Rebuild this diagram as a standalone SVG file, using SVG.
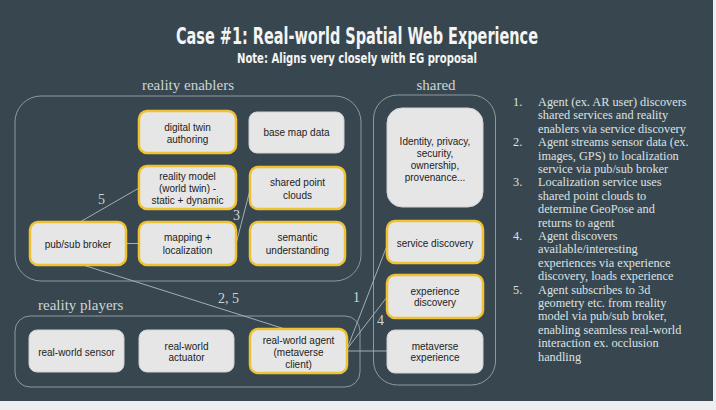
<svg xmlns="http://www.w3.org/2000/svg" width="716" height="410" viewBox="0 0 716 410">
  <defs>
    <style>
      .bg { fill: #38474f; }
      .frame { fill: none; stroke: #8e999f; stroke-width: 1; }
      .box { fill: #e6e6e6; stroke: #cfd1d2; stroke-width: 1; }
      .hl { fill: #e6e6e6; stroke: #efc234; stroke-width: 2.5; }
      .lbl { font-family: "Liberation Sans", Arial, sans-serif; font-size: 10px; fill: #222; text-anchor: middle; }
      .grp { font-family: "Liberation Serif", "Times New Roman", serif; font-size: 15px; fill: #cdd5d9; }
      .num { font-family: "Liberation Serif", "Times New Roman", serif; font-size: 14px; fill: #cdd5d9; }
      .list { font-family: "Liberation Serif", "Times New Roman", serif; font-size: 12.3px; fill: #dde2e5; }
      .title { font-family: "DejaVu Sans Condensed", "DejaVu Sans", sans-serif; font-weight: bold; fill: #f4f4f4; text-anchor: middle; }
      .conn line { stroke: #a4aeb3; stroke-width: 1; }
    </style>
  </defs>

  <!-- page -->
  <rect x="0" y="0" width="716" height="410" fill="#eceef0"/>
  <rect class="bg" x="0" y="0" width="713" height="401"/>

  <!-- heading -->
  <text class="title" x="357" y="43.5" font-size="22.5" textLength="362" lengthAdjust="spacingAndGlyphs">Case #1: Real-world Spatial Web Experience</text>
  <text class="title" x="357" y="63" font-size="14.5" textLength="240" lengthAdjust="spacingAndGlyphs">Note: Aligns very closely with EG proposal</text>

  <!-- group frames -->
  <g id="reality-enablers">
    <rect class="frame" x="15" y="96" width="346" height="185" rx="26"/>
    <text class="grp" x="188" y="90" text-anchor="middle">reality enablers</text>
  </g>
  <g id="shared">
    <rect class="frame" x="373.5" y="95" width="122" height="290" rx="24"/>
    <text class="grp" x="436" y="90" text-anchor="middle">shared</text>
  </g>
  <g id="reality-players">
    <rect class="frame" x="15" y="316" width="345" height="71" rx="15"/>
    <text class="grp" x="38" y="310">reality players</text>
  </g>

  <!-- connectors -->
  <g id="connectors" class="conn">
    <line x1="80" y1="222" x2="139" y2="188"/>
    <line x1="126" y1="243.5" x2="139" y2="243.5"/>
    <line x1="236.5" y1="242" x2="250" y2="190"/>
    <line x1="83" y1="265" x2="288" y2="330"/>
    <line x1="347" y1="349" x2="386.5" y2="247"/>
    <line x1="347" y1="349" x2="387" y2="297"/>
    <line x1="347" y1="351" x2="387" y2="351"/>
    <text class="num" x="98" y="204">5</text>
    <text class="num" x="233" y="220">3</text>
    <text class="num" x="218" y="303">2, 5</text>
    <text class="num" x="353" y="302">1</text>
    <text class="num" x="377" y="325">4</text>
  </g>

  <!-- reality enablers -->
  <g id="digital-twin-authoring">
    <rect class="hl" x="139" y="111" width="97" height="42" rx="8"/>
    <text class="lbl" x="187.5" y="130.5">digital twin</text>
    <text class="lbl" x="187.5" y="142.5">authoring</text>
  </g>
  <g id="base-map-data">
    <rect class="box" x="249" y="112" width="95" height="41" rx="8"/>
    <text class="lbl" x="296.5" y="136.3">base map data</text>
  </g>
  <g id="reality-model">
    <rect class="hl" x="139" y="166" width="97" height="43" rx="8"/>
    <text class="lbl" x="187.5" y="180.3">reality model</text>
    <text class="lbl" x="187.5" y="192.3">(world twin) -</text>
    <text class="lbl" x="187.5" y="204.3">static + dynamic</text>
  </g>
  <g id="shared-point-clouds">
    <rect class="hl" x="250" y="167" width="95" height="42" rx="8"/>
    <text class="lbl" x="297.5" y="186.3">shared point</text>
    <text class="lbl" x="297.5" y="198.5">clouds</text>
  </g>
  <g id="pub-sub-broker">
    <rect class="hl" x="30" y="222" width="96" height="43" rx="8"/>
    <text class="lbl" x="78" y="247.5">pub/sub broker</text>
  </g>
  <g id="mapping-localization">
    <rect class="hl" x="139" y="222" width="97" height="43" rx="8"/>
    <text class="lbl" x="187.5" y="241.3">mapping +</text>
    <text class="lbl" x="187.5" y="253.5">localization</text>
  </g>
  <g id="semantic-understanding">
    <rect class="hl" x="250" y="222" width="95" height="43" rx="8"/>
    <text class="lbl" x="297.5" y="241.3">semantic</text>
    <text class="lbl" x="297.5" y="253.5">understanding</text>
  </g>

  <!-- shared services -->
  <g id="identity">
    <rect class="box" x="387" y="108" width="96" height="99" rx="15"/>
    <text class="lbl" x="435" y="144.5">Identity, privacy,</text>
    <text class="lbl" x="435" y="156.5">security,</text>
    <text class="lbl" x="435" y="168.5">ownership,</text>
    <text class="lbl" x="435" y="180.5">provenance...</text>
  </g>
  <g id="service-discovery">
    <rect class="hl" x="387" y="221" width="96" height="42" rx="8"/>
    <text class="lbl" x="435" y="247">service discovery</text>
  </g>
  <g id="experience-discovery">
    <rect class="hl" x="387" y="275" width="96" height="43" rx="8"/>
    <text class="lbl" x="435" y="294.5">experience</text>
    <text class="lbl" x="435" y="306.3">discovery</text>
  </g>
  <g id="metaverse-experience">
    <rect class="box" x="387" y="330" width="96" height="43" rx="8"/>
    <text class="lbl" x="435" y="349.5">metaverse</text>
    <text class="lbl" x="435" y="361">experience</text>
  </g>

  <!-- reality players -->
  <g id="real-world-sensor">
    <rect class="box" x="29" y="330" width="95" height="42" rx="8"/>
    <text class="lbl" x="76.5" y="356">real-world sensor</text>
  </g>
  <g id="real-world-actuator">
    <rect class="box" x="139" y="330" width="95" height="42" rx="8"/>
    <text class="lbl" x="186.5" y="349.5">real-world</text>
    <text class="lbl" x="186.5" y="361.3">actuator</text>
  </g>
  <g id="real-world-agent">
    <rect class="hl" x="250" y="329" width="97" height="44" rx="8"/>
    <text class="lbl" x="298.5" y="344.3">real-world agent</text>
    <text class="lbl" x="298.5" y="356">(metaverse</text>
    <text class="lbl" x="298.5" y="367.7">client)</text>
  </g>

  <!-- numbered steps -->
  <g id="steps" class="list">
    <text x="513" y="106">1.</text>
    <text x="538" y="106">Agent (ex. AR user) discovers</text>
    <text x="538" y="119.4">shared services and reality</text>
    <text x="538" y="132.8">enablers via service discovery</text>
    <text x="513" y="146.2">2.</text>
    <text x="538" y="146.2">Agent streams sensor data (ex.</text>
    <text x="538" y="159.6">images, GPS) to localization</text>
    <text x="538" y="173">service via pub/sub broker</text>
    <text x="513" y="186.4">3.</text>
    <text x="538" y="186.4">Localization service uses</text>
    <text x="538" y="199.8">shared point clouds to</text>
    <text x="538" y="213.2">determine GeoPose and</text>
    <text x="538" y="226.6">returns to agent</text>
    <text x="513" y="240">4.</text>
    <text x="538" y="240">Agent discovers</text>
    <text x="538" y="253.4">available/interesting</text>
    <text x="538" y="266.8">experiences via experience</text>
    <text x="538" y="280.2">discovery, loads experience</text>
    <text x="513" y="293.6">5.</text>
    <text x="538" y="293.6">Agent subscribes to 3d</text>
    <text x="538" y="307">geometry etc. from reality</text>
    <text x="538" y="320.4">model via pub/sub broker,</text>
    <text x="538" y="333.8">enabling seamless real-world</text>
    <text x="538" y="347.2">interaction ex. occlusion</text>
    <text x="538" y="360.6">handling</text>
  </g>
</svg>
